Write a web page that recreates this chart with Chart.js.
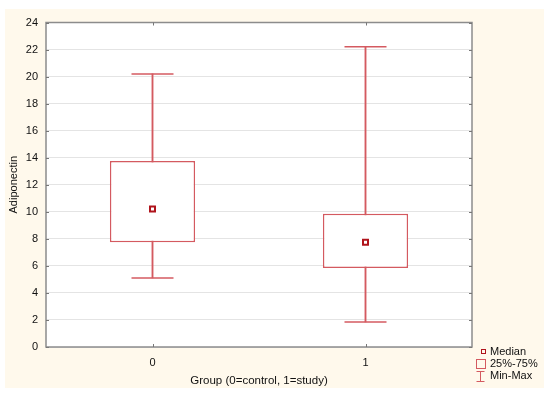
<!DOCTYPE html>
<html>
<head>
<meta charset="utf-8">
<script src="https://cdn.jsdelivr.net/npm/chart.js@4.4.1/dist/chart.umd.min.js"></script>
<style>
  html, body { margin: 0; padding: 0; background: #ffffff; }
  #wrap { width: 550px; height: 394px; }
</style>
</head>
<body>
<div id="wrap"><canvas id="box"></canvas></div>
<script>
// box plot values
const groups = ["0", "1"];
const mins = [5.1, 1.85];
const q1s = [7.75, 5.85];
const medians = [10.2, 7.75];
const q3s = [13.75, 9.85];
const maxs = [20.2, 22.2];
const yTicks = [0, 2, 4, 6, 8, 10, 12, 14, 16, 18, 20, 22, 24];

const boxRed = "#d45a60";
const medRed = "#b0141c";
const fontFam = "'Liberation Sans', Arial, sans-serif";

/*
  @desc: cream panel behind everything, white plot area, frame, small inner ticks and legend
*/
const decor = {
  id: "decor",
  beforeDraw(chart) {
    const ctx = chart.ctx;
    const a = chart.chartArea;
    ctx.save();
    ctx.fillStyle = "#fff9ec";
    ctx.fillRect(5, 9, 539, 379);
    ctx.fillStyle = "#ffffff";
    ctx.fillRect(a.left, a.top, a.right - a.left, a.bottom - a.top);
    ctx.restore();
  },
  afterDraw(chart) {
    const ctx = chart.ctx;
    const a = chart.chartArea;
    const xs = chart.scales.x;
    const ys = chart.scales.y;
    ctx.save();
    ctx.strokeStyle = "#8c8c8c";
    ctx.lineWidth = 1.5;
    ctx.strokeRect(a.left, a.top, a.right - a.left, a.bottom - a.top);

    // short ticks pointing into the plot
    ctx.lineWidth = 1;
    ctx.strokeStyle = "#777";
    ctx.beginPath();
    yTicks.forEach(v => {
      const py = Math.round(ys.getPixelForValue(v)) + 0.5;
      ctx.moveTo(a.left, py); ctx.lineTo(a.left + 3, py);
      ctx.moveTo(a.right, py); ctx.lineTo(a.right - 3, py);
    });
    groups.forEach((g, i) => {
      const px = Math.round(xs.getPixelForValue(i)) + 0.5;
      ctx.moveTo(px, a.bottom); ctx.lineTo(px, a.bottom - 3);
      ctx.moveTo(px, a.top); ctx.lineTo(px, a.top + 3);
    });
    ctx.stroke();

    // legend
    const lx = a.right + 10;
    ctx.font = "11px " + fontFam;
    ctx.fillStyle = "#111";
    ctx.textBaseline = "middle";
    ctx.textAlign = "left";

    ctx.strokeStyle = medRed;
    ctx.lineWidth = 1;
    ctx.strokeRect(lx - 0.5, a.bottom + 2.5, 4, 4);
    ctx.fillText("Median", lx + 8, a.bottom + 4.5);

    ctx.strokeStyle = boxRed;
    ctx.strokeRect(lx - 5.5, a.bottom + 12.5, 9, 9);
    ctx.fillText("25%-75%", lx + 8, a.bottom + 16.5);

    ctx.beginPath();
    ctx.moveTo(lx - 1.5, a.bottom + 24);
    ctx.lineTo(lx - 1.5, a.bottom + 35);
    ctx.moveTo(lx - 5.5, a.bottom + 24.5);
    ctx.lineTo(lx + 2.5, a.bottom + 24.5);
    ctx.moveTo(lx - 5.5, a.bottom + 34.5);
    ctx.lineTo(lx + 2.5, a.bottom + 34.5);
    ctx.stroke();
    ctx.fillText("Min-Max", lx + 8, a.bottom + 28.5);
    ctx.restore();
  }
};

const config = {
  type: "bar",
  data: {
    labels: groups,
    datasets: [
      {
        type: "line",
        label: "Median",
        data: medians,
        showLine: false,
        pointStyle: "rect",
        pointRadius: 3.5,
        pointBorderWidth: 2,
        pointBorderColor: medRed,
        pointBackgroundColor: "#ffffff",
        order: 0,
      },
      {
        label: "25%-75%",
        data: q1s.map((v, i) => [v, q3s[i]]),
        backgroundColor: "#ffffff",
        borderColor: boxRed,
        borderWidth: 1.5,
        borderSkipped: false,
        barPercentage: 0.4,
        categoryPercentage: 1,
        grouped: false,
        order: 1,
      },
      {
        label: "Min-Max",
        data: mins.map((v, i) => [v, maxs[i]]),
        backgroundColor: boxRed,
        borderWidth: 0,
        barThickness: 1.2,
        grouped: false,
        order: 2,
      },
      {
        type: "line",
        label: "Min cap",
        data: mins,
        showLine: false,
        pointStyle: "line",
        pointRadius: 21,
        pointBorderWidth: 1.5,
        pointBorderColor: boxRed,
        order: 3,
      },
      {
        type: "line",
        label: "Max cap",
        data: maxs,
        showLine: false,
        pointStyle: "line",
        pointRadius: 21,
        pointBorderWidth: 1.5,
        pointBorderColor: boxRed,
        order: 3,
      },
    ],
  },
  options: {
    responsive: false,
    animation: false,
    layout: { padding: { left: 0, top: 17, right: 78, bottom: 0 } },
    plugins: {
      legend: { display: false },
      tooltip: { enabled: false },
    },
    scales: {
      x: {
        offset: true,
        grid: { display: false, drawTicks: false },
        border: { display: false },
        ticks: { color: "#111", padding: 9, font: { family: fontFam, size: 11 } },
        title: {
          display: true,
          text: "Group (0=control, 1=study)",
          color: "#111",
          font: { family: fontFam, size: 11.5 },
          padding: { top: 4, bottom: 6 },
        },
        afterFit(scale) { scale.height = 47; },
      },
      y: {
        min: 0,
        max: 24,
        afterBuildTicks(scale) { scale.ticks = yTicks.map(v => ({ value: v })); },
        grid: { color: "#e4e4e4", drawTicks: false },
        border: { display: false },
        ticks: { color: "#111", padding: 8, font: { family: fontFam, size: 11 } },
        title: {
          display: true,
          text: "Adiponectin",
          color: "#111",
          font: { family: fontFam, size: 11 },
          padding: { top: 7, bottom: 2 },
        },
        afterFit(scale) { scale.width = 46; },
      },
    },
  },
  plugins: [decor],
};

const canvas = document.getElementById("box");
canvas.width = 550;
canvas.height = 394;
const boxChart = new Chart(canvas, config);
</script>
</body>
</html>
